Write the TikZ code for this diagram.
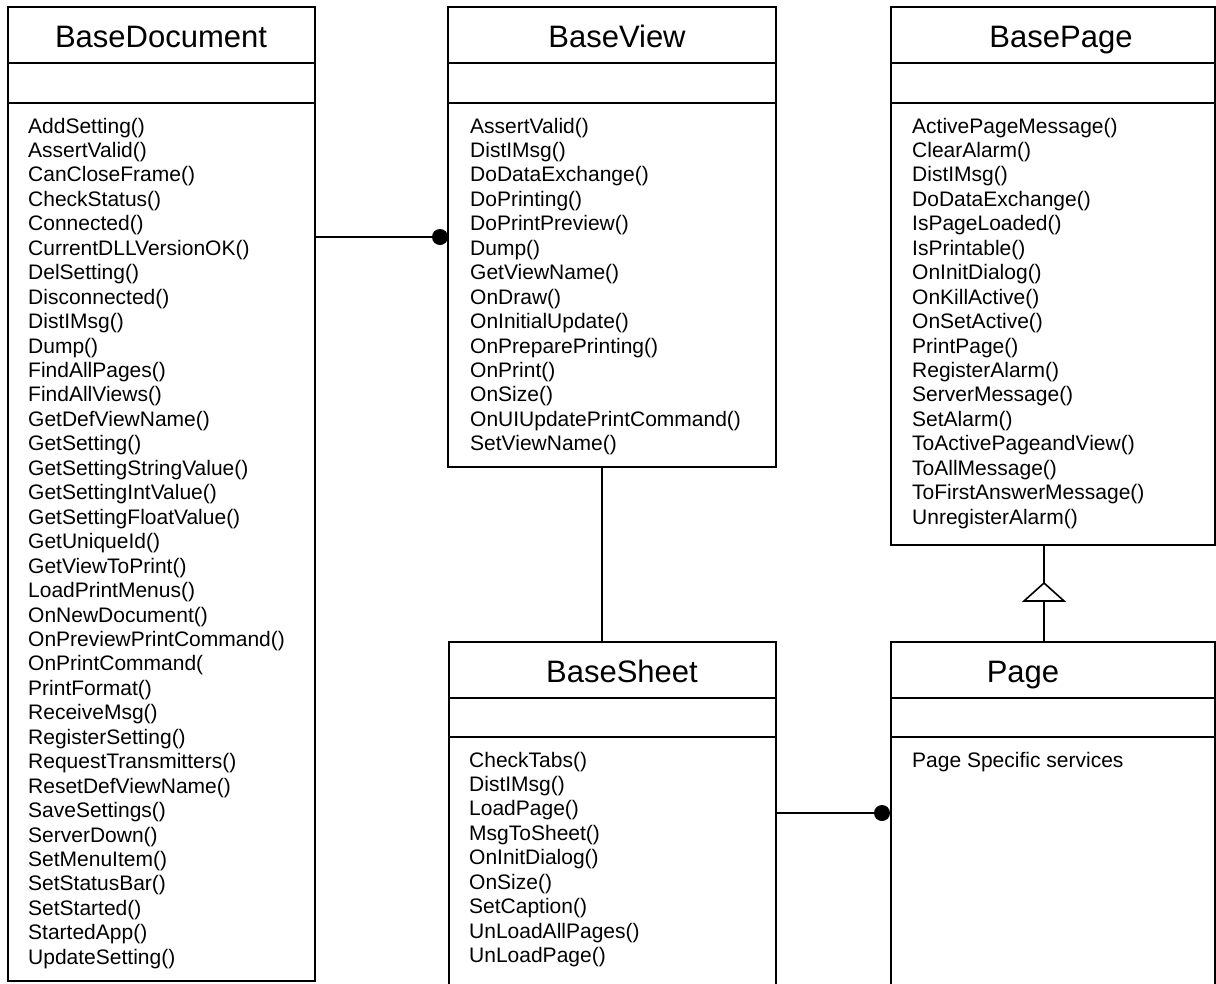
\documentclass[tikz,border=0pt]{standalone}
\usepackage{fontspec}
\setmainfont{Liberation Sans}
\begin{document}
\begin{tikzpicture}[x=1pt,y=-1pt,
  box/.style={draw, line width=2pt, rectangle, inner sep=0pt, anchor=north west},
  sep/.style={line width=2pt},
  title/.style={anchor=base, inner sep=0pt, font=\fontsize{31}{37}\selectfont},
  op/.style={anchor=base west, inner sep=0pt, font=\fontsize{21}{24}\selectfont},
  link/.style={line width=1.6pt},
  dot/.style={circle, fill, inner sep=0pt, minimum size=16pt},
]
\fill[white] (0,0) rectangle (1216,983);
\useasboundingbox (0,0) rectangle (1216,983);

% ---- class boxes ----
\node[box, minimum width=307pt, minimum height=974pt] (doc)   at (7,6)   {};
\node[box, minimum width=328pt, minimum height=460pt] (view)  at (447,6) {};
\node[box, minimum width=324pt, minimum height=538pt] (bpage) at (890,6) {};
\node[box, minimum width=327pt, minimum height=400pt] (sheet) at (448,641) {};
\node[box, minimum width=324pt, minimum height=400pt] (page)  at (890,641) {};

% compartment separators
\foreach \b in {doc,view,bpage} {
  \draw[sep] (\b.west |- 0,63)  -- (\b.east |- 0,63);
  \draw[sep] (\b.west |- 0,103) -- (\b.east |- 0,103);
}
\foreach \b in {sheet,page} {
  \draw[sep] (\b.west |- 0,698) -- (\b.east |- 0,698);
  \draw[sep] (\b.west |- 0,737) -- (\b.east |- 0,737);
}

% ---- class names ----
\node[title] (doc-t)   at (161,47)   {BaseDocument};
\node[title] (view-t)  at (617,47)   {BaseView};
\node[title] (bpage-t) at (1061,47)  {BasePage};
\node[title] (sheet-t) at (622,682)  {BaseSheet};
\node[title] (page-t)  at (1023,682) {Page};

% ---- operations ----
\foreach \m [count=\i from 0] in {AddSetting(), AssertValid(), CanCloseFrame(),
  CheckStatus(), Connected(), CurrentDLLVersionOK(), DelSetting(), Disconnected(),
  DistIMsg(), Dump(), FindAllPages(), FindAllViews(), GetDefViewName(), GetSetting(),
  GetSettingStringValue(), GetSettingIntValue(), GetSettingFloatValue(), GetUniqueId(),
  GetViewToPrint(), LoadPrintMenus(), OnNewDocument(), OnPreviewPrintCommand(),
  OnPrintCommand(, PrintFormat(), ReceiveMsg(), RegisterSetting(),
  RequestTransmitters(), ResetDefViewName(), SaveSettings(), ServerDown(),
  SetMenuItem(), SetStatusBar(), SetStarted(), StartedApp(), UpdateSetting()}
  \node[op] (doc-m\i) at (28,{133+24.45*\i}) {\m};

\foreach \m [count=\i from 0] in {AssertValid(), DistIMsg(), DoDataExchange(),
  DoPrinting(), DoPrintPreview(), Dump(), GetViewName(), OnDraw(), OnInitialUpdate(),
  OnPreparePrinting(), OnPrint(), OnSize(), OnUIUpdatePrintCommand(), SetViewName()}
  \node[op] (view-m\i) at (470,{133+24.45*\i}) {\m};

\foreach \m [count=\i from 0] in {ActivePageMessage(), ClearAlarm(), DistIMsg(),
  DoDataExchange(), IsPageLoaded(), IsPrintable(), OnInitDialog(), OnKillActive(),
  OnSetActive(), PrintPage(), RegisterAlarm(), ServerMessage(), SetAlarm(),
  ToActivePageandView(), ToAllMessage(), ToFirstAnswerMessage(), UnregisterAlarm()}
  \node[op] (bpage-m\i) at (912,{133+24.45*\i}) {\m};

\foreach \m [count=\i from 0] in {CheckTabs(), DistIMsg(), LoadPage(), MsgToSheet(),
  OnInitDialog(), OnSize(), SetCaption(), UnLoadAllPages(), UnLoadPage()}
  \node[op] (sheet-m\i) at (469,{767+24.45*\i}) {\m};

\node[op] (page-m0) at (912,767) {Page Specific services};

% ---- relationships ----
\node[dot] (dot1) at (440,237) {};
\draw[link] (doc.east |- dot1) -- (dot1);

\node[dot] (dot2) at (882,813) {};
\draw[link] (sheet.east |- dot2) -- (dot2);

\draw[link] (view.south -| 602,0) -- (sheet.north -| 602,0);

% generalization Page -> BasePage
\coordinate (apex) at (1044,583);
\coordinate (baseL) at (1024,601);
\coordinate (baseR) at (1064,601);
\coordinate (baseM) at (1044,601);
\draw[link] (bpage.south -| apex) -- (apex);
\draw[link, line join=miter] (apex) -- (baseL) -- (baseR) -- cycle;
\draw[link] (baseM) -- (page.north -| baseM);
\end{tikzpicture}
\end{document}
